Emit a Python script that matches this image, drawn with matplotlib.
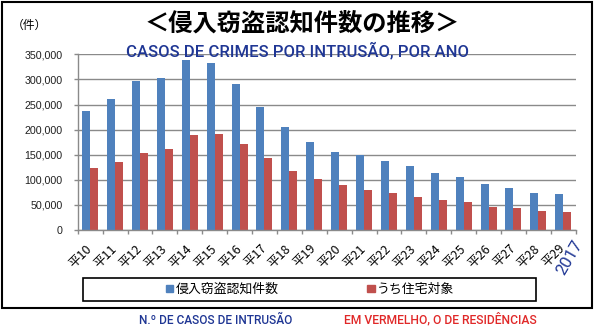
"""
Recreate the chart of burglary (侵入窃盗) counts by year, H10-H29.
"""

import matplotlib

matplotlib.use("Agg")

import matplotlib.pyplot as plt
import numpy as np
from matplotlib.patches import Patch, Rectangle


OUTPUT_PATH = "out.png"

YEARS = ["平10", "平11", "平12", "平13", "平14", "平15", "平16", "平17", "平18", "平19",
         "平20", "平21", "平22", "平23", "平24", "平25", "平26", "平27", "平28", "平29"]
TOTAL = [236500, 260500, 296500, 302500, 338500, 332500, 290500, 244500, 204500, 174500,
         154500, 149000, 136500, 126500, 114500, 106500, 92500, 84500, 74500, 72500]
HOMES = [123000, 134500, 152500, 160500, 188500, 190500, 170500, 142500, 118500, 102500,
         90500, 80500, 74500, 66500, 60500, 56500, 46500, 44500, 38500, 36500]
Y_TICKS = [0, 50000, 100000, 150000, 200000, 250000, 300000, 350000]

SERIES_LABELS = ["侵入窃盗認知件数", "うち住宅対象"]
BLUE = "#4F81BD"
RED = "#C0504D"
NOTE_BLUE = "#1f3694"
NOTE_RED = "#e02828"
GRID = "#8a8a8a"
NARROW = ["Roboto", "DejaVu Sans"]

W, H = 594, 336


def fx(px):
    return px / W


def fy(py):
    return 1 - py / H


def main():
    plt.rcParams["font.family"] = ["Noto Sans CJK JP", "DejaVu Sans"]

    fig = plt.figure(figsize=(W / 100, H / 100), dpi=100)
    ax = fig.add_axes([fx(77.7), fy(230), fx(575.7) - fx(77.7), fy(54.3) - fy(230)])

    x = np.arange(len(YEARS))
    width = 0.32
    ax.bar(x - width / 2, TOTAL, width, color=BLUE, zorder=2)
    ax.bar(x + width / 2, HOMES, width, color=RED, zorder=2)

    ax.set_xlim(-0.5, len(YEARS) - 0.5)
    ax.set_ylim(0, 350000)

    ax.set_yticks(Y_TICKS)
    ax.set_yticklabels([f"{v:,}" for v in Y_TICKS], family="Liberation Sans",
                       fontsize=7.7, color="#1f1f1f")
    ax.tick_params(axis="y", length=3, width=1, color=GRID, pad=8)
    ax.grid(axis="y", color=GRID, linewidth=1, zorder=0)

    ax.set_xticks(x)
    ax.set_xticklabels(YEARS, rotation=45, ha="right", va="center",
                       rotation_mode="anchor", fontsize=9)
    ax.set_xticks(np.arange(-0.5, len(YEARS)), minor=True)
    ax.tick_params(axis="x", which="major", length=0, pad=12)
    ax.tick_params(axis="x", which="minor", length=3, width=1, color=GRID)

    for side in ["top", "right"]:
        ax.spines[side].set_visible(False)
    for side in ["left", "bottom"]:
        ax.spines[side].set_color(GRID)
        ax.spines[side].set_linewidth(1)

    # outer frame and legend box
    fig.add_artist(Rectangle((fx(1.5), fy(308)), fx(592) - fx(1.5), fy(1.5) - fy(308),
                             transform=fig.transFigure, fill=False, ec="black", lw=1.5))
    fig.add_artist(Rectangle((fx(83), fy(301)), fx(536) - fx(83), fy(278) - fy(301),
                             transform=fig.transFigure, fill=False, ec="black", lw=1.2))

    handles = [Patch(color=BLUE), Patch(color=RED)]
    fig.legend(handles, SERIES_LABELS, loc="center",
               bbox_to_anchor=(fx(310), fy(289.5)), ncol=2, frameon=False,
               handlelength=0.55, handleheight=0.55, handletextpad=0.2,
               columnspacing=6.9, fontsize=9.3)

    fig.text(fx(302), fy(24), "＜侵入窃盗認知件数の推移＞", ha="center", va="center",
             fontsize=17.5, fontweight="bold")
    fig.text(fx(29), fy(25), "（件）", ha="center", va="center", fontsize=8.5)

    fig.text(fx(298), fy(51), "CASOS DE CRIMES POR INTRUSÃO, POR ANO", ha="center",
             va="center", family=NARROW, fontsize=12, fontweight="medium",
             color=NOTE_BLUE)
    fig.text(fx(570), fy(258), "2017", ha="center", va="center", rotation=60,
             family=NARROW, fontsize=12, color=NOTE_BLUE)
    fig.text(fx(216), fy(320), "N.º DE CASOS DE INTRUSÃO", ha="center", va="center",
             family=NARROW, fontsize=8.6, fontweight="medium", color=NOTE_BLUE)
    fig.text(fx(440.5), fy(320), "EM VERMELHO, O DE RESIDÊNCIAS", ha="center", va="center",
             family=NARROW, fontsize=8.7, fontweight="medium", color=NOTE_RED)

    fig.savefig(OUTPUT_PATH, dpi=100)
    plt.close(fig)


if __name__ == "__main__":
    main()
